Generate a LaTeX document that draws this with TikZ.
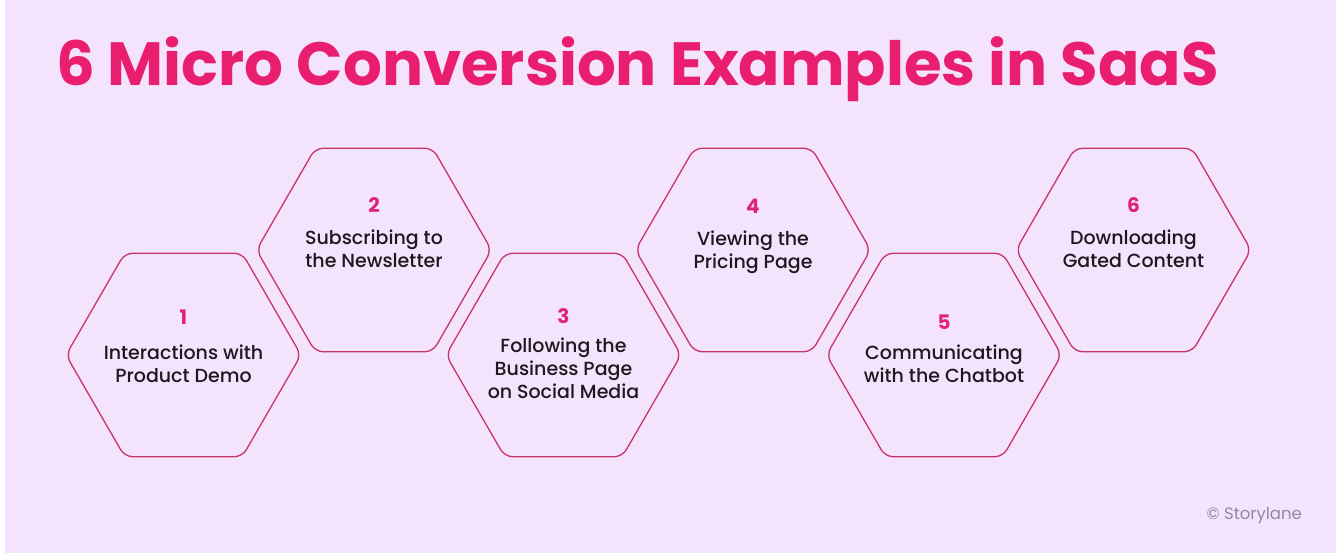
\documentclass[tikz,border=0pt]{standalone}
\usepackage{fontspec}
\setmainfont{Poppins}
\newfontfamily\descfont{Poppins Medium}
\usetikzlibrary{shapes.geometric,positioning,calc}
\definecolor{bgviolet}{RGB}{244,227,252}
\definecolor{titlepink}{RGB}{234,30,110}
\definecolor{numpink}{RGB}{222,36,116}
\definecolor{hexline}{RGB}{198,52,104}
\definecolor{marktxt}{RGB}{150,134,160}
\definecolor{desctxt}{RGB}{28,24,30}
\tikzset{
  hexbox/.style={draw=hexline, line width=1.3pt, regular polygon, regular polygon sides=6,
    minimum size=235pt, inner sep=0pt, outer sep=0pt, rounded corners=8pt},
  numtxt/.style={font=\fontsize{20}{22}\selectfont\bfseries, text=numpink, inner sep=0pt},
  desctxt/.style={font=\descfont\fontsize{19}{23}\selectfont, text=desctxt, align=center, inner sep=0pt}
}
\begin{document}
\begin{tikzpicture}[x=1pt, y=-1pt, line join=round, line cap=round]
\useasboundingbox (0,0) rectangle (1336,556);
\fill[white] (0,0) rectangle (1336,556);
\fill[bgviolet] (5,0) rectangle (1336,553);
\path
(183.5,355) coordinate (c1)
(374,250) coordinate (c2)
(563.5,355) coordinate (c3)
(753,250) coordinate (c4)
(944,355) coordinate (c5)
(1133.5,250) coordinate (c6)
;
% title
\node[anchor=base west, inner sep=0pt, text=titlepink, font=\fontsize{61}{64}\selectfont\bfseries] (title) at (56,86) {6 Micro Conversion Examples in SaaS};
% hexagons with number and text
\foreach \i/\n/\g/\t in {1/-38/20/{Interactions with\\Product Demo}, 2/-45/17/{Subscribing to\\the Newsletter}, 3/-39/14/{Following the\\Business Page\\on Social Media}, 4/-44/17/{Viewing the\\Pricing Page}, 5/-33/15/{Communicating\\with the Chatbot}, 6/-45/17/{Downloading\\Gated Content}}
{
  \node[hexbox] (h\i) at (c\i) {};
  \node[numtxt] (n\i) at ($(c\i)+(0,\n)$) {\i};
  \node[desctxt, anchor=north, below=\g pt of n\i] (d\i) {\t};
}
\node[anchor=base east, inner sep=0pt, text=marktxt, font=\fontsize{16.5}{19}\selectfont] (mark) at (1302,519) {© Storylane};
\end{tikzpicture}
\end{document}
